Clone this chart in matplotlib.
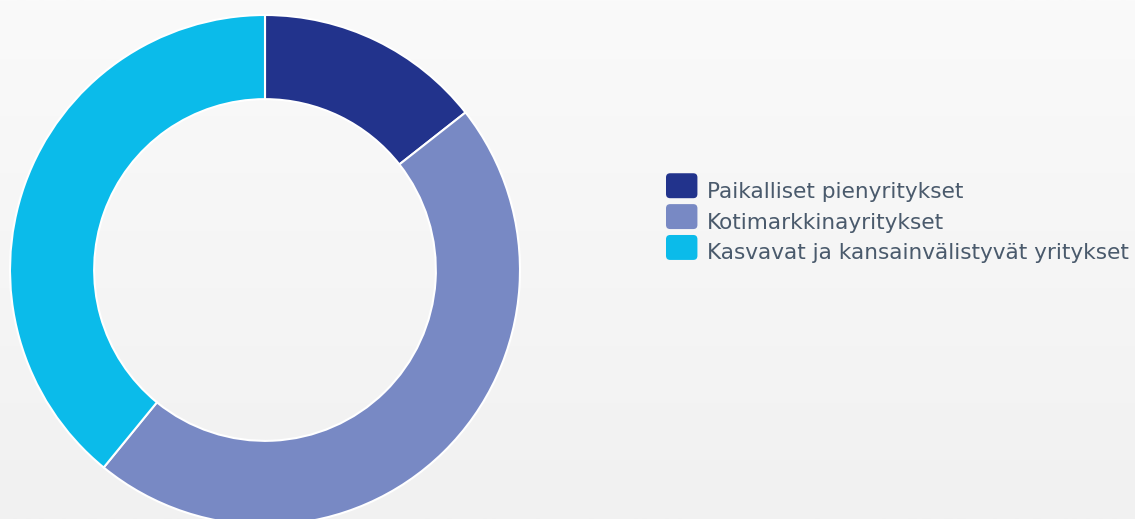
import matplotlib
matplotlib.use("Agg")
import matplotlib.pyplot as plt
import numpy as np
from matplotlib.patches import Patch, FancyBboxPatch
from matplotlib.legend_handler import HandlerPatch

labels = ["Paikalliset pienyritykset", "Kotimarkkinayritykset",
          "Kasvavat ja kansainvälistyvät yritykset"]
values = [14.4, 46.5, 39.1]
colors = ["#22338c", "#7889c4", "#0bbbea"]

W, H = 1135, 519
fig = plt.figure(figsize=(W / 100, H / 100), dpi=100)

# background gradient
bg = fig.add_axes([0, 0, 1, 1], zorder=-1)
grad = np.linspace(0, 1, 256).reshape(-1, 1)
bg.imshow(grad, aspect="auto", cmap=matplotlib.colors.LinearSegmentedColormap.from_list(
    "bg", ["#fafafa", "#f1f1f1"]), extent=[0, 1, 0, 1])
bg.axis("off")

ax = fig.add_axes([10 / W, -6 / H, 510 / W, 510 / H])
wedges, _ = ax.pie(values, colors=colors, startangle=90, counterclock=False,
                   radius=1, wedgeprops=dict(width=0.33, edgecolor="white", linewidth=1.5))
ax.set_xlim(-1, 1)
ax.set_ylim(-1, 1)
ax.set_aspect("equal")
ax.axis("off")


class RoundBox(HandlerPatch):
    # rounded legend swatches
    def create_artists(self, legend, orig, xd, yd, width, height, fontsize, trans):
        p = FancyBboxPatch((xd, yd - 2), width, height + 4,
                           boxstyle="round,pad=0,rounding_size=3",
                           facecolor=orig.get_facecolor(), edgecolor="none",
                           transform=trans)
        return [p]


handles = [Patch(facecolor=c, edgecolor=c) for c in colors]
fig.legend(handles, labels, loc="center left", bbox_to_anchor=(666 / W, 1 - 222 / H),
           frameon=False, fontsize=15.6, labelcolor="#4a5a6c",
           handlelength=1.45, handleheight=1.0, handletextpad=0.45,
           labelspacing=0.45, borderpad=0, borderaxespad=0,
           handler_map={Patch: RoundBox()})

fig.savefig("out.png", dpi=100)
